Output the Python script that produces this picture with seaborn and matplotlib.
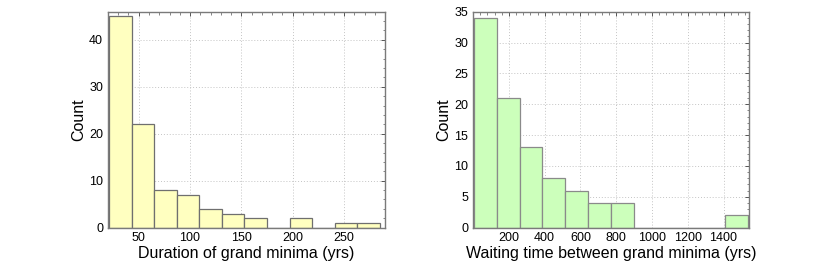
import matplotlib
matplotlib.use("Agg")
import matplotlib.pyplot as plt
import seaborn as sns
import numpy as np
from matplotlib.ticker import AutoMinorLocator

# histogram of grand minima durations (yrs)
dur_edges = [21, 43, 65, 87, 109, 131, 153, 175, 197, 219, 241, 263, 285]
dur_counts = [45, 22, 8, 7, 4, 3, 2, 0, 2, 0, 1, 1]
dur_ticks = [50, 100, 150, 200, 250]

# histogram of waiting times between grand minima (yrs)
wait_edges = [5, 132.5, 260, 387.5, 515, 642.5, 770, 897.5, 1025, 1152.5, 1280, 1407.5, 1535]
wait_counts = [34, 21, 13, 8, 6, 4, 4, 0, 0, 0, 0, 2]
wait_ticks = [200, 400, 600, 800, 1000, 1200, 1400]

sns.set_style("white")
plt.rcParams['font.family'] = ['Liberation Sans', 'DejaVu Sans']
plt.rcParams['text.color'] = 'black'
plt.rcParams['axes.labelcolor'] = 'black'

fig = plt.figure(figsize=(8.3, 2.65), dpi=100)
ax1 = fig.add_axes([0.130, 0.141, 0.334, 0.815])
ax2 = fig.add_axes([0.570, 0.141, 0.333, 0.815])


def centers(edges):
    e = np.asarray(edges, dtype=float)
    return (e[:-1] + e[1:]) / 2


panels = [
    (ax1, dur_edges, dur_counts, '#ffffc0', '#6f6f6f', (20, 290), (0, 46),
     [0, 10, 20, 30, 40], dur_ticks, 'Duration of grand minima (yrs)'),
    (ax2, wait_edges, wait_counts, '#ccffbb', '#8a8a8a', (0, 1545), (0, 35),
     [0, 5, 10, 15, 20, 25, 30, 35], wait_ticks, 'Waiting time between grand minima (yrs)'),
]

for ax, edges, counts, fc, ec, xl, yl, yt, xt, xlab in panels:
    sns.histplot(x=centers(edges), weights=counts, bins=edges, ax=ax,
                 color=fc, edgecolor=ec, linewidth=0.9, alpha=1, zorder=2)
    ax.set_xlim(*xl)
    ax.set_ylim(*yl)
    ax.set_xticks(xt)
    ax.set_yticks(yt)
    ax.xaxis.set_minor_locator(AutoMinorLocator(5))
    ax.yaxis.set_minor_locator(AutoMinorLocator(5))
    ax.grid(True, which='major', linestyle=(0, (1, 2)), color='#c4c4c4', linewidth=0.7, zorder=0)
    ax.set_axisbelow(True)
    ax.tick_params(which='both', direction='in', top=True, right=True,
                   colors='#555555', labelcolor='black', labelsize=9)
    ax.tick_params(which='major', length=3, width=0.7)
    ax.tick_params(which='minor', length=1.8, width=0.5)
    for s in ax.spines.values():
        s.set_color('#7a7a7a')
        s.set_linewidth(1.0)
    ax.set_xlabel(xlab, fontsize=11.5, labelpad=1)
    ax.set_ylabel('Count', fontsize=11.5, labelpad=2)

fig.savefig('out.png', dpi=100)
